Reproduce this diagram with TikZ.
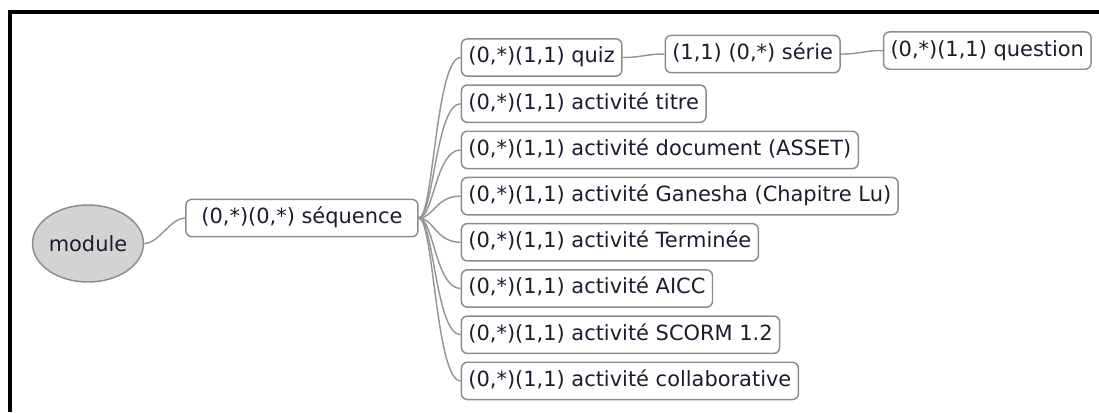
\documentclass[tikz,border=0pt]{standalone}
\usepackage{fontspec}
\setmainfont{DejaVu Sans}
\usepackage{xcolor}
\usetikzlibrary{positioning, shapes.geometric}

\definecolor{ink}{RGB}{28,28,48}
\definecolor{rim}{RGB}{140,140,140}
\definecolor{bubble}{RGB}{211,211,211}
\definecolor{link}{RGB}{150,150,150}

\begin{document}
\begin{tikzpicture}[
    x=0.75pt, y=-0.75pt,
    every node/.style={font=\fontsize{15.7}{19}\selectfont, text=ink},
    % grey oval for the root of the map
    root/.style={draw=rim, fill=bubble, ellipse, line width=1.1pt,
                 minimum width=82.5pt, minimum height=57.75pt, inner sep=0pt},
    % rounded white boxes for every topic
    topic/.style={draw=rim, fill=white, rounded corners=4.5pt, line width=1.1pt,
                  minimum height=28pt, inner xsep=5.25pt,
                  text height=11.6pt, text depth=3.4pt},
    % curved grey branches between topics
    branch/.style={draw=link, line width=1.1pt},
    % frame of the screen shot
    frame/.style={draw=black, line width=3pt}
]
\useasboundingbox (0,0) rectangle (1099,412);

\draw[frame] (1099,11.7) -- (10.3,11.7) -- (10.3,412);

\node[root] (module) at (88,243.5) {module};

\node[topic, right=30.75pt of module, yshift=19.1pt, minimum width=174pt] (seq) {(0,*)(0,*) séquence};

\node[topic, right=31.5pt of seq, yshift=120.4pt]  (quiz)    {(0,*)(1,1) quiz};
\node[topic, right=31.5pt of seq, yshift=85.75pt]  (titre)   {(0,*)(1,1) activité titre};
\node[topic, right=31.5pt of seq, yshift=51.1pt]   (doc)     {(0,*)(1,1) activité document (ASSET)};
\node[topic, right=31.5pt of seq, yshift=16.45pt]  (ganesha) {(0,*)(1,1) activité Ganesha (Chapitre Lu)};
\node[topic, right=31.5pt of seq, yshift=-18.2pt]  (term)    {(0,*)(1,1) activité Terminée};
\node[topic, right=31.5pt of seq, yshift=-52.85pt] (aicc)    {(0,*)(1,1) activité AICC};
\node[topic, right=31.5pt of seq, yshift=-87.5pt]  (scorm)   {(0,*)(1,1) activité SCORM 1.2};
\node[topic, right=31.5pt of seq, yshift=-122.15pt](collab)  {(0,*)(1,1) activité collaborative};

\node[topic, right=31.5pt of quiz, yshift=2.6pt]  (serie)    {(1,1) (0,*) série};
\node[topic, right=31.5pt of serie, yshift=2.6pt] (question) {(0,*)(1,1) question};

\draw[branch] (module.east) .. controls +(15,0) and +(-15,0) .. (seq.west);

\draw[branch] (seq.east) .. controls +(15,0) and +(-25,0) .. (quiz.west);
\draw[branch] (seq.east) .. controls +(15,0) and +(-25,0) .. (titre.west);
\draw[branch] (seq.east) .. controls +(15,0) and +(-25,0) .. (doc.west);
\draw[branch] (seq.east) .. controls +(15,0) and +(-25,0) .. (ganesha.west);
\draw[branch] (seq.east) .. controls +(15,0) and +(-25,0) .. (term.west);
\draw[branch] (seq.east) .. controls +(15,0) and +(-25,0) .. (aicc.west);
\draw[branch] (seq.east) .. controls +(15,0) and +(-25,0) .. (scorm.west);
\draw[branch] (seq.east) .. controls +(15,0) and +(-25,0) .. (collab.west);

\draw[branch] (quiz.east) .. controls +(20,0) and +(-20,0) .. (serie.west);
\draw[branch] (serie.east) .. controls +(20,0) and +(-20,0) .. (question.west);

\end{tikzpicture}
\end{document}
